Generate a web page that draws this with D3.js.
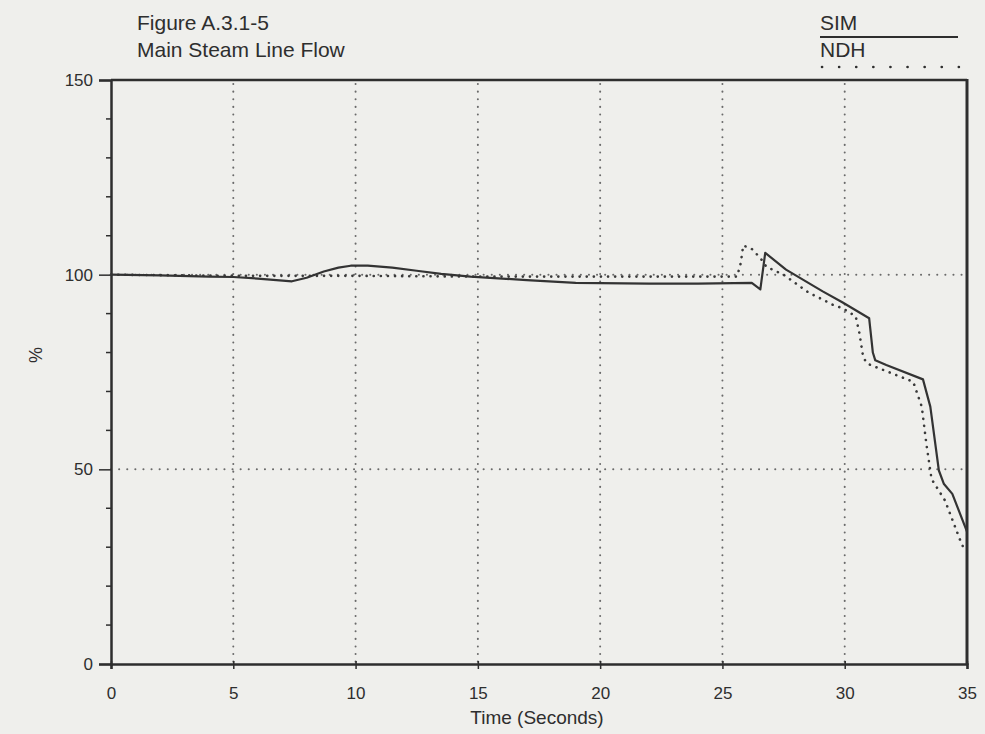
<!DOCTYPE html>
<html><head><meta charset="utf-8">
<script src="https://cdn.jsdelivr.net/npm/d3@7"></script>
<style>
html,body{margin:0;padding:0;background:#efefec;}
svg{display:block;}
text{font-family:"Liberation Sans",Arial,Helvetica,sans-serif;fill:#2e2e2e;}
</style></head>
<body>
<svg id="c" width="985" height="734"></svg>
<script>
// ---- data ----
const simTime  = [0,2,4,5,6,7.4,8.0,8.7,9.3,9.8,10.5,11.5,12.5,13.5,14.7,17,19,22,24,26.2,26.55,26.75,27.6,29.1,29.9,31.0,31.15,31.25,31.7,33.2,33.5,33.85,34.05,34.4,35];
const simFlow  = [100,99.8,99.5,99.4,99,98.3,99.2,100.8,101.8,102.3,102.3,101.8,101,100.2,99.5,98.6,97.9,97.7,97.7,97.9,96.2,105.6,101.3,95.7,92.9,88.8,80,78,76.8,73.1,66.1,49.7,46.3,43.7,34];
const ndhTime  = [0,5,10,15,20,25.6,25.75,25.85,26.2,26.55,26.8,27.5,28.5,29.5,29.9,30.45,30.6,30.75,30.9,32.8,33.15,33.35,33.55,34.1,34.8,35];
const ndhFlow  = [100,99.7,99.7,99.5,99.5,99.5,103,107.5,106.6,104.3,102,100,95.5,92.3,91.4,89.3,85,79,77.2,72.5,66.1,56,47.5,42,30.5,29];
const xTicks = [0,5,10,15,20,25,30,35];
const yTicks = [0,50,100,150];
const yMinor = [10,20,30,40,60,70,80,90,110,120,130,140];
const titleLines = ["Figure A.3.1-5","Main Steam Line Flow"];
const legendNames = ["SIM","NDH"];

const svg = d3.select("#c");
const L=111, R=967, T=80, B=664;
const x = d3.scaleLinear().domain([0,35]).range([L,R]);
const y = d3.scaleLinear().domain([0,150]).range([B,T]);
const ink="#2e2e2e", grid="#6a6a6a";

// grid
svg.append("g").selectAll("line").data(xTicks.filter(d=>d>0&&d<35)).join("line")
  .attr("x1",d=>x(d)).attr("x2",d=>x(d)).attr("y1",T+4).attr("y2",B)
  .attr("stroke",grid).attr("stroke-width",2).attr("stroke-linecap","round").attr("stroke-dasharray","0.1,7.5");
svg.append("g").selectAll("line").data([50,100]).join("line")
  .attr("x1",L).attr("x2",R).attr("y1",d=>y(d)).attr("y2",d=>y(d))
  .attr("stroke",grid).attr("stroke-width",2).attr("stroke-linecap","round").attr("stroke-dasharray","0.1,8");

// axes
const xAxis = d3.axisBottom(x).tickValues(xTicks).tickSize(5).tickPadding(18);
const gx = svg.append("g").attr("transform",`translate(0,${B})`).call(xAxis);
gx.select(".domain").attr("stroke",ink).attr("stroke-width",2.5);
gx.selectAll(".tick line").attr("stroke",ink).attr("stroke-width",1.5).attr("y1",-3);
gx.selectAll(".tick text").attr("font-size",17).attr("fill","#333").style("font-family","Liberation Sans, Arial");

const yAxis = d3.axisLeft(y).tickValues(yTicks).tickSize(12).tickPadding(6);
const gy = svg.append("g").attr("transform",`translate(${L},0)`).call(yAxis);
gy.select(".domain").attr("stroke",ink).attr("stroke-width",2.5);
gy.selectAll(".tick line").attr("stroke",ink).attr("stroke-width",1.5);
gy.selectAll(".tick text").attr("font-size",17).attr("fill","#333");
svg.append("g").selectAll("line").data(yMinor).join("line")
  .attr("x1",L-5).attr("x2",L).attr("y1",d=>y(d)).attr("y2",d=>y(d))
  .attr("stroke",ink).attr("stroke-width",1.5);

// top and right borders
svg.append("line").attr("x1",L).attr("x2",R).attr("y1",T).attr("y2",T).attr("stroke",ink).attr("stroke-width",2.5);
svg.append("line").attr("x1",R).attr("x2",R).attr("y1",T-1).attr("y2",B+1).attr("stroke",ink).attr("stroke-width",3);

// series
const line = d3.line().x(d=>x(d[0])).y(d=>y(d[1]));
svg.append("path").datum(ndhTime.map((t,i)=>[t,ndhFlow[i]]))
  .attr("d",line).attr("fill","none").attr("stroke","#3a3a3a").attr("stroke-width",2.6)
  .attr("stroke-linecap","round").attr("stroke-dasharray","0.1,7");
svg.append("path").datum(simTime.map((t,i)=>[t,simFlow[i]]))
  .attr("d",line).attr("fill","none").attr("stroke","#333").attr("stroke-width",2.2).attr("stroke-linejoin","round");

// labels
svg.append("text").attr("x",(L+R)/2-2).attr("y",724).attr("text-anchor","middle").attr("font-size",19).text("Time (Seconds)");
svg.append("text").attr("transform","translate(42,355) rotate(-90)").attr("text-anchor","middle").attr("font-size",18).text("%");

// title
svg.append("g").selectAll("text").data(titleLines).join("text")
  .attr("x",137).attr("y",(d,i)=>30+i*27).attr("font-size",21).text(d=>d);

// legend
svg.append("text").attr("x",820).attr("y",30).attr("font-size",21).text(legendNames[0]);
svg.append("line").attr("x1",820).attr("x2",958).attr("y1",37).attr("y2",37).attr("stroke",ink).attr("stroke-width",1.8);
svg.append("text").attr("x",820).attr("y",57).attr("font-size",21).text(legendNames[1]);
svg.append("line").attr("x1",822).attr("x2",960).attr("y1",67).attr("y2",67).attr("stroke",ink).attr("stroke-width",2.6)
  .attr("stroke-linecap","round").attr("stroke-dasharray","0.1,17");
</script>
</body></html>
